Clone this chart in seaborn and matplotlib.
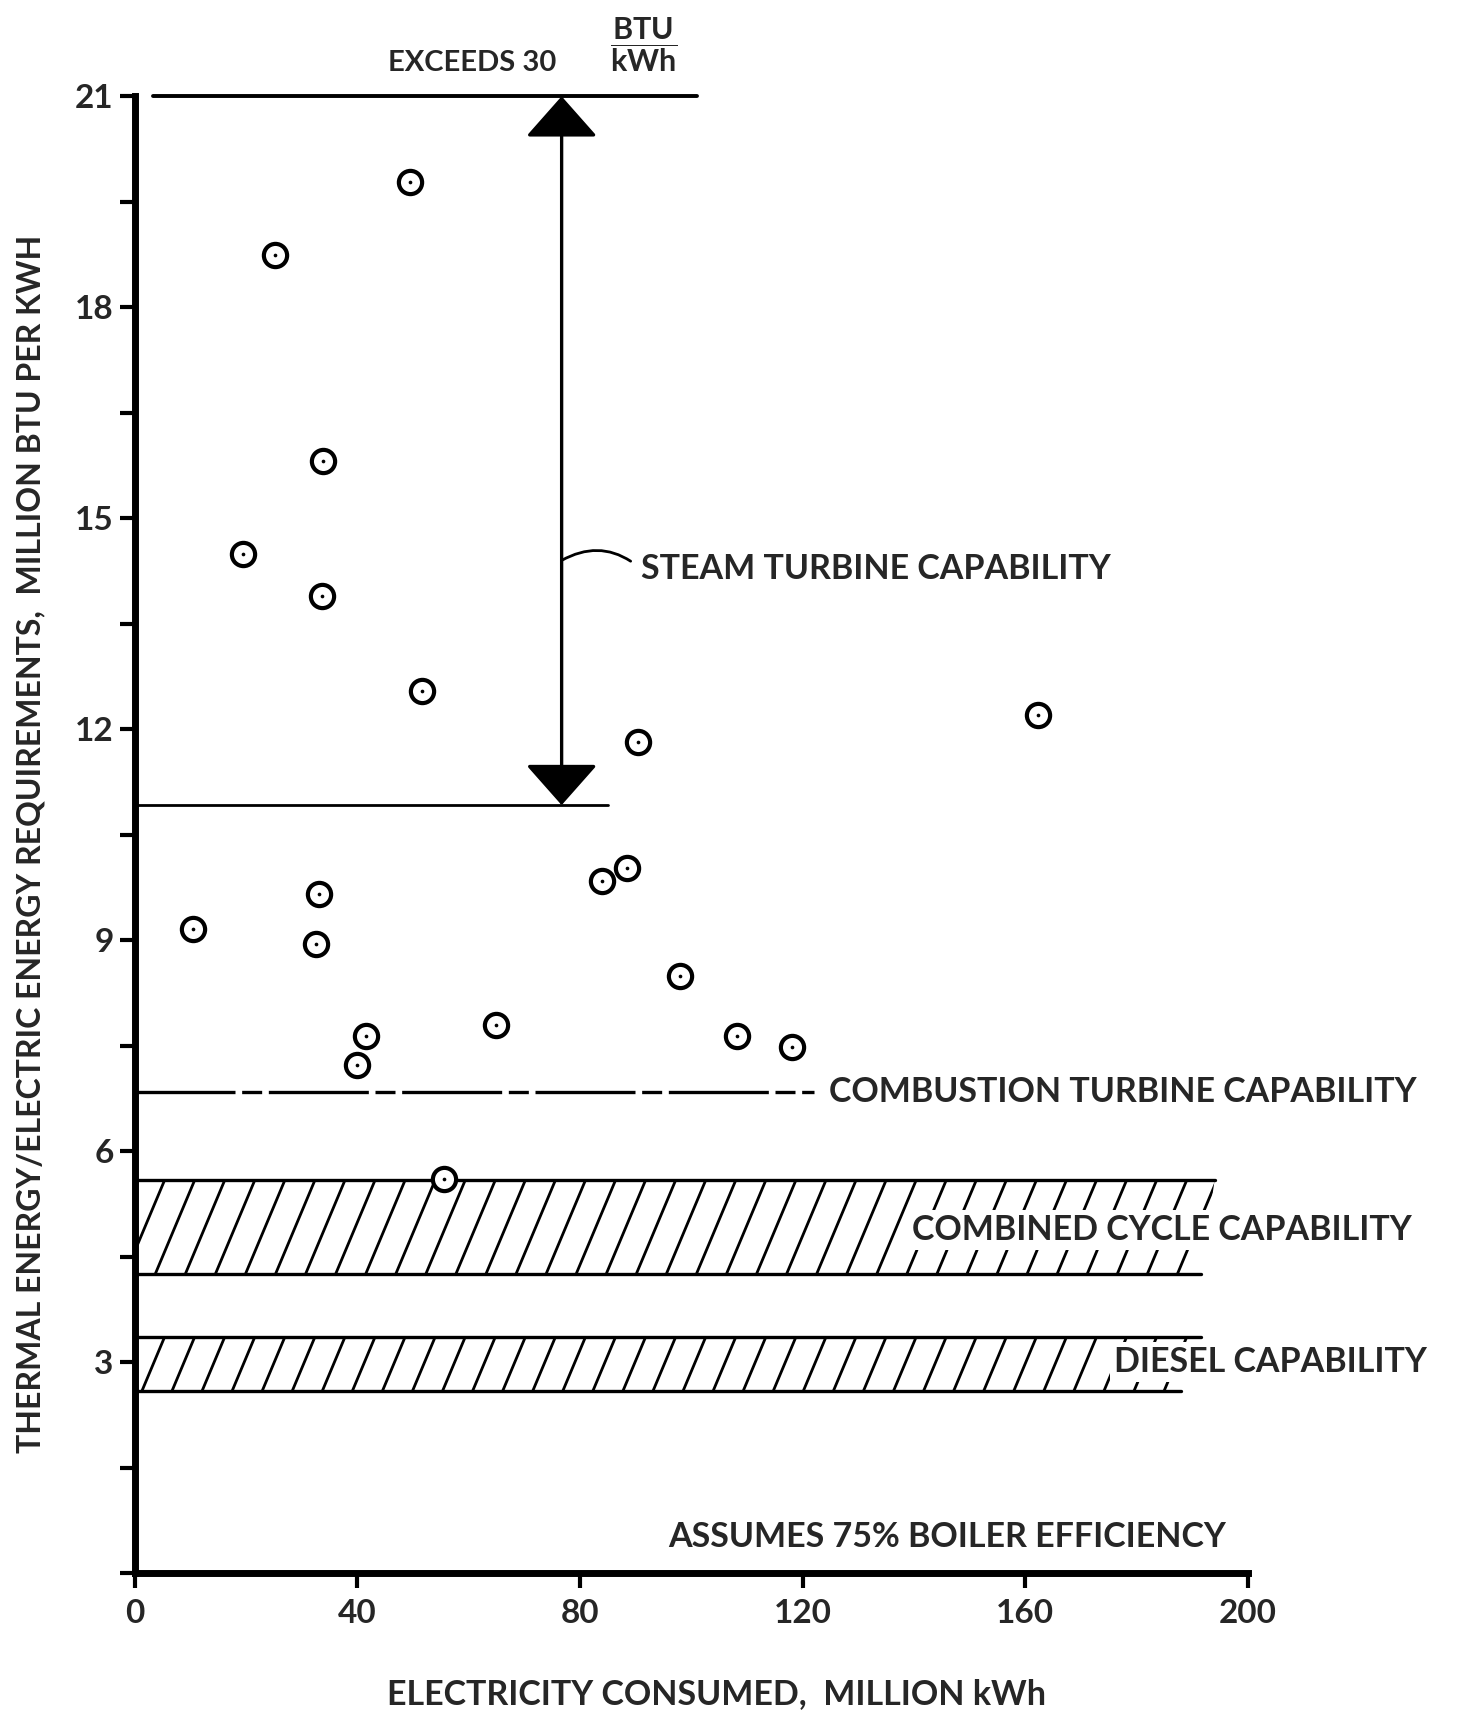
import numpy as np
import pandas as pd
import seaborn as sns
import matplotlib.pyplot as plt
from matplotlib.patches import Polygon
from matplotlib.collections import LineCollection

# --- data ---
elec_mkwh = [49.4, 25.2, 33.8, 19.5, 33.6, 51.7, 90.5, 162.2, 10.4, 33.2,
             32.6, 88.5, 83.9, 97.9, 41.5, 39.9, 64.9, 108.2, 118.0, 55.5]
btu_per_kwh = [19.78, 18.74, 15.81, 14.49, 13.89, 12.54, 11.82, 12.2, 9.16, 9.66,
               8.94, 10.03, 9.84, 8.49, 7.63, 7.23, 7.79, 7.63, 7.48, 5.61]

steam_range = [10.92, 21.0]        # steam turbine capability band
steam_x_end = [101.0, 85.0]        # extent of top / bottom lines
steam_top_x0 = 3.3
arrow_x = 76.7
combustion_level = 6.84
combustion_x_end = 122.0
combined_band = [4.25, 5.59]
combined_x_end = [191.5, 194.0]    # bottom, top
diesel_band = [2.59, 3.36]
diesel_x_end = [188.0, 191.5]

x_ticks = [0, 40, 80, 120, 160, 200]
y_ticks = [3, 6, 9, 12, 15, 18, 21]
y_minor = [0, 1.5, 4.5, 7.5, 10.5, 13.5, 16.5, 19.5]

df = pd.DataFrame({"elec": elec_mkwh, "ratio": btu_per_kwh})

sns.set_theme(style="white")
plt.rcParams["font.family"] = ["Lato", "DejaVu Sans"]
plt.rcParams["font.weight"] = "bold"
plt.rcParams["axes.labelweight"] = "bold"
plt.rcParams["mathtext.fontset"] = "custom"
plt.rcParams["mathtext.rm"] = "Lato:bold"

LBL = 24.5

fig = plt.figure(figsize=(14.57, 17.16), dpi=100)
ax = fig.add_axes([0.0924, 0.0833, 0.7642, 0.8606])
ax.set_xlim(0, 200)
ax.set_ylim(0, 21)


def hatched_band(lo, hi, x_end_lo, x_end_hi, spacing=5.4, slant=0.42):
    poly = Polygon([(0, lo), (x_end_lo, lo), (x_end_hi, hi), (0, hi)],
                   closed=True, facecolor="none", edgecolor="none")
    ax.add_patch(poly)
    dx = slant * (hi - lo) * (70.3 / 5.567)
    segs = [[(x0, lo), (x0 + dx, hi)] for x0 in np.arange(-dx, x_end_hi + spacing, spacing)]
    lc = LineCollection(segs, colors="black", linewidths=2.0, zorder=2)
    ax.add_collection(lc)
    lc.set_clip_path(poly)
    ax.plot([0, x_end_lo], [lo, lo], color="black", lw=2.4, zorder=3)
    ax.plot([0, x_end_hi], [hi, hi], color="black", lw=2.4, zorder=3)


hatched_band(combined_band[0], combined_band[1], combined_x_end[0], combined_x_end[1])
hatched_band(diesel_band[0], diesel_band[1], diesel_x_end[0], diesel_x_end[1])

# steam turbine range
ax.plot([steam_top_x0, steam_x_end[0]], [steam_range[1]] * 2, color="black", lw=2.8, clip_on=False)
ax.plot([0, steam_x_end[1]], [steam_range[0]] * 2, color="black", lw=2.0)
ax.annotate("", xy=(arrow_x, steam_range[1]), xytext=(arrow_x, steam_range[0]),
            arrowprops=dict(arrowstyle="<|-|>,head_length=1.3,head_width=1.15",
                            mutation_scale=20, lw=2.4, color="black",
                            shrinkA=0, shrinkB=0), annotation_clip=False)
ax.annotate("STEAM TURBINE CAPABILITY", xy=(arrow_x, 14.4), xytext=(90.9, 14.28),
            fontsize=LBL, va="center", ha="left",
            arrowprops=dict(arrowstyle="-", lw=2.0, color="black", relpos=(0, 0.5),
                            connectionstyle="arc3,rad=0.35", shrinkA=6, shrinkB=0))

# combustion turbine line
ax.plot([0, combustion_x_end], [combustion_level] * 2, color="black", lw=2.4,
        linestyle=(0, (30, 2, 6, 2)))
ax.text(124.7, combustion_level, "COMBUSTION TURBINE CAPABILITY", fontsize=LBL,
        va="center", ha="left", clip_on=False)

box = dict(boxstyle="square,pad=0.12", facecolor="white", edgecolor="none")
ax.text(139.6, 4.88, "COMBINED CYCLE CAPABILITY", fontsize=LBL, va="center",
        ha="left", bbox=box, clip_on=False, zorder=10)
ax.text(176.0, 3.0, "DIESEL CAPABILITY", fontsize=LBL, va="center", ha="left",
        bbox=box, clip_on=False, zorder=10)
ax.text(95.8, 0.51, "ASSUMES 75% BOILER EFFICIENCY", fontsize=LBL, va="center", ha="left")
ax.text(45.6, 21.48, "EXCEEDS 30", fontsize=21, va="center", ha="left", clip_on=False)
ax.text(91.4, 21.74, r"$\dfrac{\mathrm{BTU}}{\mathrm{kWh}}$", fontsize=22,
        va="center", ha="center", clip_on=False)

# data points: open circles with a centre dot
sns.scatterplot(data=df, x="elec", y="ratio", ax=ax, s=280, marker="o",
                facecolor="white", edgecolor="black", linewidth=3.0, zorder=6)
sns.scatterplot(data=df, x="elec", y="ratio", ax=ax, s=7, color="black",
                linewidth=0, zorder=7)

# axes styling
for side in ["top", "right"]:
    ax.spines[side].set_visible(False)
for side in ["left", "bottom"]:
    ax.spines[side].set_linewidth(5)
    ax.spines[side].set_color("black")

ax.set_xticks(x_ticks)
ax.set_xticklabels([str(v) for v in x_ticks])
ax.set_yticks(y_ticks)
ax.set_yticklabels([str(v) for v in y_ticks])
ax.set_yticks(y_minor, minor=True)
ax.tick_params(axis="both", which="both", direction="out", length=11, width=3,
               color="black", labelsize=24, pad=4)
ax.tick_params(axis="x", bottom=True, pad=8)
ax.tick_params(axis="y", left=True, which="both")

ax.set_xlabel("ELECTRICITY CONSUMED,  MILLION kWh", fontsize=24.5)
ax.set_ylabel("THERMAL ENERGY/ELECTRIC ENERGY REQUIREMENTS,  MILLION BTU PER KWH", fontsize=23)
ax.xaxis.set_label_coords(0.523, -0.071)
ax.yaxis.set_label_coords(-0.080, 0.494)
ax.grid(False)

plt.savefig("out.png", dpi=100, facecolor="white")
plt.close()
